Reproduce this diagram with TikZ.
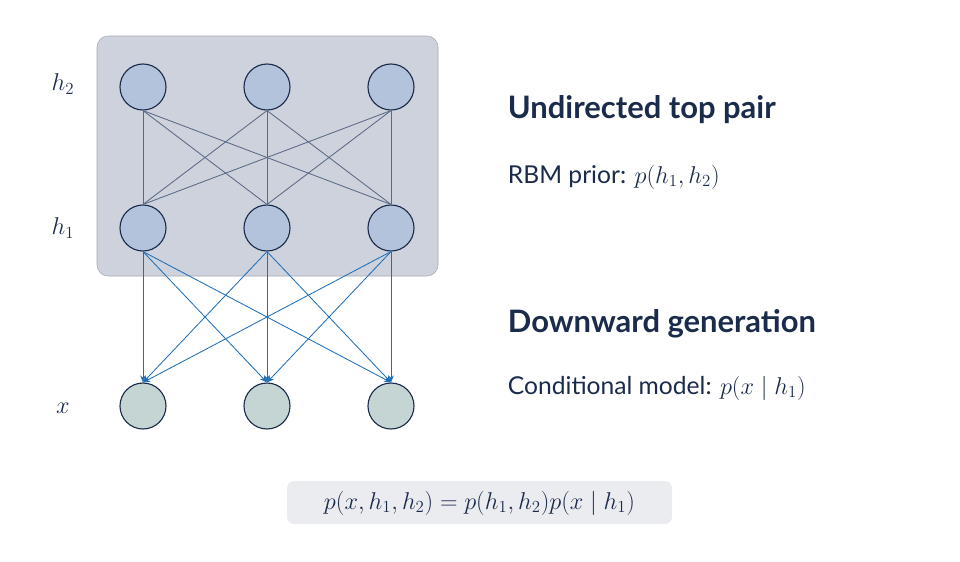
\documentclass[tikz,border=0pt]{standalone}
\usepackage{fontspec}
\setmainfont{Lato}
\usetikzlibrary{arrows.meta}
\definecolor{navy}{HTML}{1B2B4B}
\definecolor{unit}{HTML}{B4C3DC}
\definecolor{visible}{HTML}{C5D5D3}
\definecolor{panel}{HTML}{CDD2DC}
\definecolor{wire}{HTML}{5A6A85}
\definecolor{gen}{HTML}{1F6FB8}
\definecolor{formula}{HTML}{EBECF0}
\begin{document}
\begin{tikzpicture}[x=0.025cm,y=-0.025cm,>={Stealth[length=5pt,width=4pt]},
	hidden/.style={circle,draw=navy,fill=unit,thick,minimum size=46*0.025cm,inner sep=0pt},
	observed/.style={hidden,fill=visible},
	lbl/.style={text=navy,font=\fontsize{18}{21}\selectfont}]
		%
		\useasboundingbox (0,0) rectangle (960,561);
		\fill [panel,draw=panel!80!black,rounded corners=8pt] (97,36) rectangle (438,276);
		%
		\foreach \c/\xx in {a/143,b/267,c/391} {
			\node [hidden] (t\c) at (\xx,87) {};
			\node [hidden] (m\c) at (\xx,228) {};
			\node [observed] (v\c) at (\xx,406) {};
		}
		%
		\foreach \i in {a,b,c} {
			\foreach \j in {a,b,c} {
				\draw [wire,semithick] (t\i.south) -- (m\j.north);
				\draw [gen,semithick,->] (m\i.south) -- (v\j.north);
			}
		}
		%
		\node [lbl] at (63,84) {$h_2$};
		\node [lbl] at (63,228) {$h_1$};
		\node [lbl] at (63,408) {$x$};
		%
		\node [anchor=west,text=navy,font=\fontsize{22}{26}\selectfont\bfseries] at (503,110) {Undirected top pair};
		\node [anchor=west,text=navy,font=\fontsize{17.5}{21}\selectfont] at (503,177) {RBM prior: $p(h_1,h_2)$};
		\node [anchor=west,text=navy,font=\fontsize{22}{26}\selectfont\bfseries] at (503,324) {Downward generation};
		\node [anchor=west,text=navy,font=\fontsize{17.5}{21}\selectfont] at (503,388) {Conditional model: $p(x\mid h_1)$};
		%
		\fill [formula,rounded corners=5pt] (287,481) rectangle (672,524);
		\node [text=navy,font=\fontsize{18}{21}\selectfont] at (479.5,503) {$p(x,h_1,h_2)=p(h_1,h_2)p(x\mid h_1)$};
		%
	\end{tikzpicture}
\end{document}
